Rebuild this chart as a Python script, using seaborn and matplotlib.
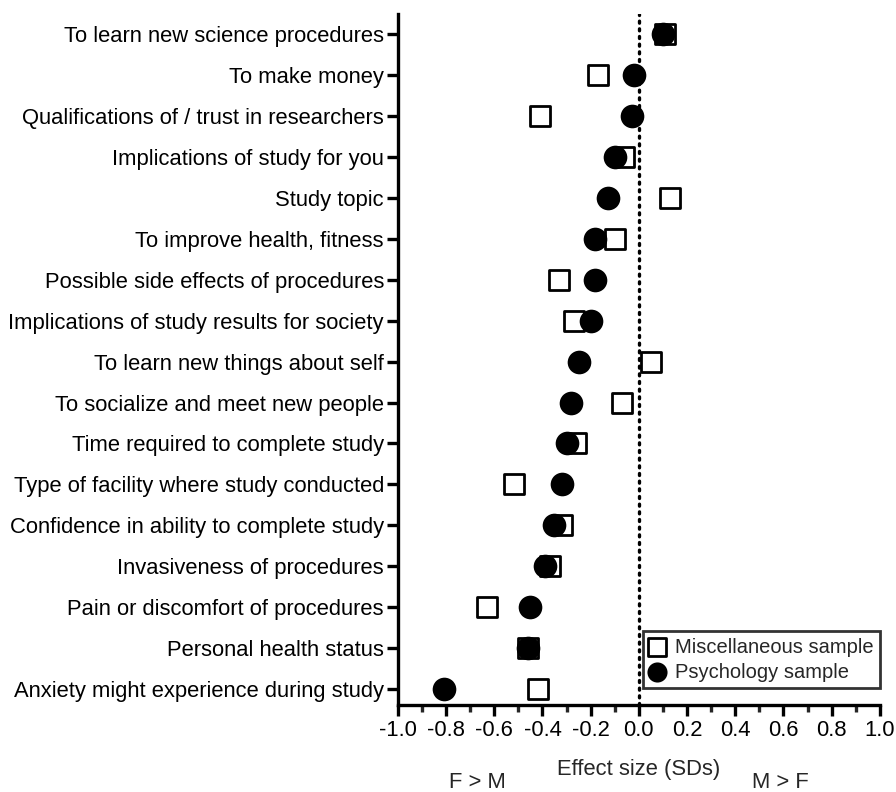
import pandas as pd
import matplotlib.pyplot as plt
import seaborn as sns
from matplotlib.ticker import MultipleLocator

# Reasons / factors, top to bottom
factors = [
    'To learn new science procedures',
    'To make money',
    'Qualifications of / trust in researchers',
    'Implications of study for you',
    'Study topic',
    'To improve health, fitness',
    'Possible side effects of procedures',
    'Implications of study results for society',
    'To learn new things about self',
    'To socialize and meet new people',
    'Time required to complete study',
    'Type of facility where study conducted',
    'Confidence in ability to complete study',
    'Invasiveness of procedures',
    'Pain or discomfort of procedures',
    'Personal health status',
    'Anxiety might experience during study',
]

# Effect sizes (SDs)
misc_sample = [0.11, -0.17, -0.41, -0.06, 0.13, -0.10, -0.33, -0.27, 0.05,
               -0.07, -0.26, -0.52, -0.32, -0.37, -0.63, -0.46, -0.42]
psych_sample = [0.10, -0.02, -0.03, -0.10, -0.13, -0.18, -0.18, -0.20, -0.25,
                -0.28, -0.30, -0.32, -0.35, -0.39, -0.45, -0.46, -0.81]

df = pd.DataFrame({'Factor': factors, 'Misc': misc_sample, 'Psych': psych_sample})

sns.set_theme(style="white")
plt.rcParams['font.family'] = ['Liberation Sans', 'DejaVu Sans']

fig = plt.figure(figsize=(8.96, 7.92), dpi=100)
ax = fig.add_axes([0.444, 0.110, 0.538, 0.872])

# zero line
ax.axvline(0, color='black', linestyle=(0, (0.6, 1.7)), linewidth=2.4,
           dash_capstyle='round', zorder=1)

sns.scatterplot(data=df, x='Misc', y='Factor', marker='s', s=215,
                facecolor='white', edgecolor='black', linewidth=2,
                label='Miscellaneous sample', zorder=3, ax=ax)
sns.scatterplot(data=df, x='Psych', y='Factor', marker='o', s=290,
                color='black', edgecolor='black', linewidth=0,
                label='Psychology sample', zorder=4, ax=ax)

ax.set_xlim(-1.0, 1.0)
ax.set_ylim(len(factors) - 1 + 0.39, -0.49)
ax.xaxis.set_major_locator(MultipleLocator(0.2))
ax.xaxis.set_minor_locator(MultipleLocator(0.1))
ax.set_xticklabels([f'{v:.1f}' for v in ax.get_xticks()])

for side in ['top', 'right']:
    ax.spines[side].set_visible(False)
for side in ['left', 'bottom']:
    ax.spines[side].set_linewidth(2.4)
    ax.spines[side].set_color('black')

ax.tick_params(axis='both', which='major', direction='out', length=8, width=2.4,
               labelsize=15.8, colors='black', left=True, bottom=True)
ax.tick_params(axis='x', which='minor', direction='out', length=5, width=2.4,
               bottom=True)
ax.tick_params(axis='y', which='major', pad=2)
ax.tick_params(axis='x', which='major', pad=3)

ax.set_ylabel('')
ax.set_xlabel('Effect size (SDs)', fontsize=15.8, labelpad=13)

leg = ax.legend(loc='lower right', bbox_to_anchor=(1.0, 0.025), fontsize=14.5,
                frameon=True, fancybox=False, edgecolor='black',
                handletextpad=0.5, borderpad=0.3, labelspacing=0.3,
                borderaxespad=0.0, markerscale=0.85, handlelength=0.8)
leg.get_frame().set_linewidth(2)

fig.text(477 / 896, 1 - 782 / 792, 'F > M', ha='center', va='center', fontsize=15.8)
fig.text(780 / 896, 1 - 782 / 792, 'M > F', ha='center', va='center', fontsize=15.8)

plt.savefig('out.png', dpi=100)
